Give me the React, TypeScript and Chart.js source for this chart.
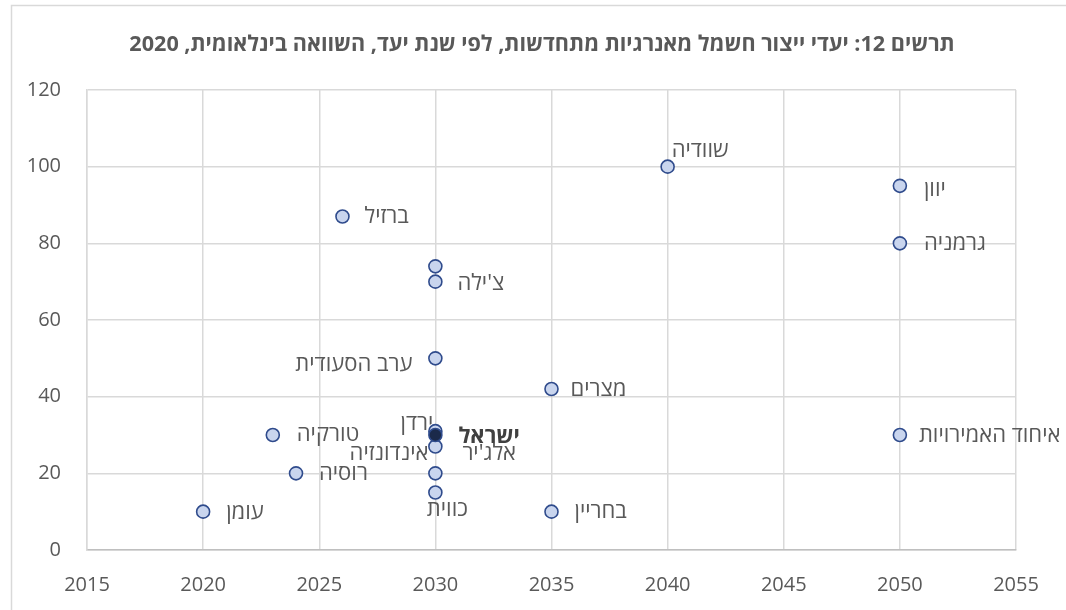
import React, { useEffect, useRef } from "react";
import { Chart, registerables } from "chart.js";

Chart.register(...registerables);

const TITLE = "תרשים 12: יעדי ייצור חשמל מאנרגיות מתחדשות, לפי שנת יעד, השוואה בינלאומית, 2020";

const countries = [
  "עומן", "רוסיה", "טורקיה", "ברזיל", "צ'ילה", "", "ערב הסעודית", "מצרים",
  "שוודיה", "יוון", "גרמניה", "איחוד האמירויות", "בחריין", "כווית",
  "אינדונזיה", "אלג'יר", "ירדן", "ישראל",
];
const targetYears = [
  2020, 2024, 2023, 2026, 2030, 2030, 2030, 2035,
  2040, 2050, 2050, 2050, 2035, 2030,
  2030, 2030, 2030, 2030,
];
const targetShares = [
  10, 20, 30, 87, 70, 74, 50, 42,
  100, 95, 80, 30, 10, 15,
  20, 27, 31, 30,
];
const xTicks = { min: 2015, max: 2055, step: 5 };
const yTicks = { min: 0, max: 120, step: 20 };
const highlighted = "ישראל";

// label placement (style): [align, dx, dy]
const labelPlacement: [CanvasTextAlign, number, number][] = [
  ["left", 23, 1], ["left", 23, 0], ["left", 24, 0], ["left", 22, 0],
  ["left", 22, 2], ["left", 0, 0], ["right", -23, 6], ["left", 19, 1],
  ["left", 4, -16], ["left", 24, 4], ["left", 24, 0], ["left", 19, 1],
  ["left", 23, 0], ["center", 12, 17],
  ["right", -7, -20], ["left", 27, 7], ["right", -2, -7], ["left", 23, 2],
];

const FONT = "'Open Sans', 'Liberation Sans', 'DejaVu Sans', sans-serif";
const TEXT = "#595959";

export default function App() {
  const ref = useRef<HTMLCanvasElement | null>(null);

  useEffect(() => {
    document.body.style.margin = "0";
    const canvas = ref.current;
    if (!canvas) return;

    const frame = {
      id: "frame",
      beforeDraw(chart: any) {
        const c = chart.ctx;
        c.save();
        c.fillStyle = "#ffffff";
        c.fillRect(0, 0, chart.width, chart.height);
        c.strokeStyle = "#d9d9d9";
        c.lineWidth = 1.5;
        c.strokeRect(11.5, 5.5, 1070, 620);
        c.direction = "rtl";
        c.fillStyle = TEXT;
        c.font = `bold 21.6px ${FONT}`;
        c.textAlign = "center";
        c.textBaseline = "middle";
        c.fillText(TITLE, 542, 45);
        c.restore();
      },
    };

    const labels = {
      id: "pointLabels",
      afterDatasetsDraw(chart: any) {
        const c = chart.ctx;
        const meta = chart.getDatasetMeta(0);
        c.save();
        c.direction = "rtl";
        c.textBaseline = "middle";
        meta.data.forEach((pt: any, i: number) => {
          const name = countries[i];
          if (!name) return;
          const [align, dx, dy] = labelPlacement[i];
          c.font = name === highlighted ? `bold 22px ${FONT}` : `22px ${FONT}`;
          c.fillStyle = name === highlighted ? "#404040" : TEXT;
          c.textAlign = align;
          c.fillText(name, pt.x + dx, pt.y + dy);
        });
        c.restore();
      },
    };

    const chart = new Chart(canvas, {
      type: "scatter",
      data: {
        datasets: [
          {
            data: targetYears.map((x, i) => ({ x, y: targetShares[i] })),
            pointRadius: 6.5,
            pointHoverRadius: 6.5,
            pointBorderWidth: 1.6,
            pointBackgroundColor: countries.map((n) => (n === highlighted ? "#1b2a4a" : "#c9d5ee")),
            pointBorderColor: "#2f4b8c",
          },
        ],
      },
      options: {
        animation: false,
        responsive: false,
        layout: { padding: { top: 90, right: 50, left: 0, bottom: 0 } },
        plugins: { legend: { display: false }, tooltip: { enabled: false }, title: { display: false } },
        scales: {
          x: {
            type: "linear",
            min: xTicks.min,
            max: xTicks.max,
            afterFit: (s: any) => { s.height = 60; },
            ticks: {
              stepSize: xTicks.step,
              callback: (v: any) => String(v),
              color: TEXT,
              font: { family: FONT, size: 20 },
              padding: 23,
              maxRotation: 0,
            },
            grid: { color: "#d9d9d9", drawTicks: false, lineWidth: 1.5 },
            border: { color: "#bfbfbf", width: 1.5 },
          },
          y: {
            min: yTicks.min,
            max: yTicks.max,
            afterFit: (s: any) => { s.width = 87; },
            ticks: {
              stepSize: yTicks.step,
              color: TEXT,
              font: { family: FONT, size: 20 },
              padding: 26,
            },
            grid: { color: "#d9d9d9", drawTicks: false, lineWidth: 1.5 },
            border: { color: "#d9d9d9", width: 1.5 },
          },
        },
      },
      plugins: [frame, labels],
    });

    return () => chart.destroy();
  }, []);

  return <canvas ref={ref} width={1066} height={610} style={{ display: "block" }} />;
}
